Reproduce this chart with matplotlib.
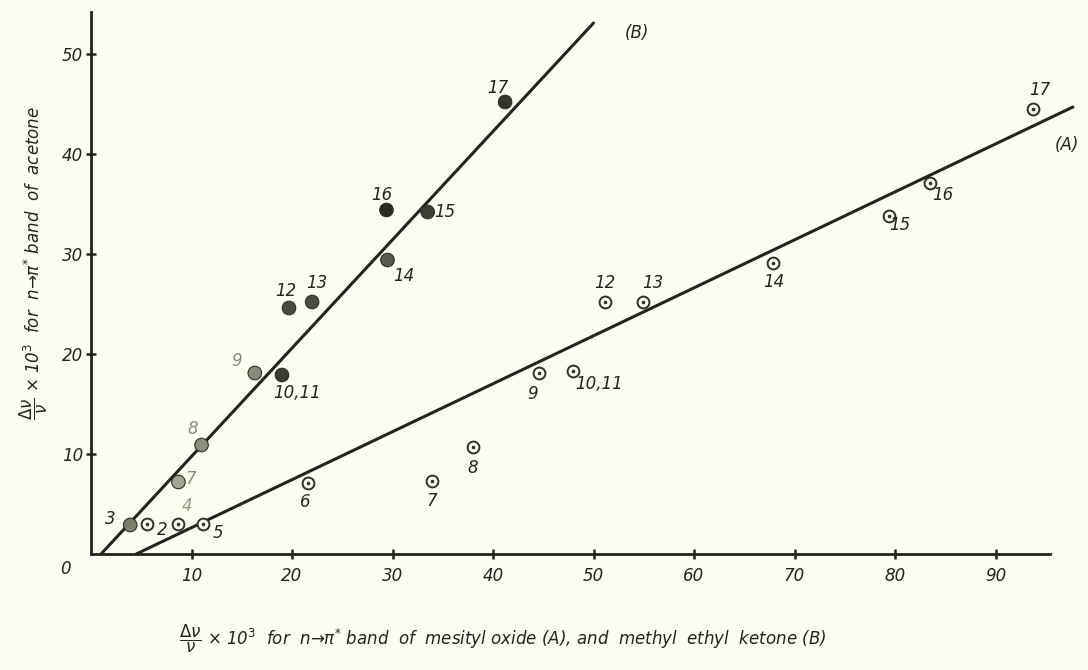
import numpy as np
import matplotlib
matplotlib.use("Agg")
import matplotlib.pyplot as plt

# series A : mesityl oxide (open circles)
a_labels = ['2', '4', '5', '6', '7', '8', '9', '10,11', '12', '13', '14', '15', '16', '17']
a_x = [5.6, 8.7, 11.1, 21.6, 33.9, 38.0, 44.6, 48.0, 51.1, 54.9, 67.9, 79.4, 83.5, 93.7]
a_y = [3.0, 3.0, 3.0, 7.1, 7.3, 10.7, 18.1, 18.3, 25.2, 25.2, 29.1, 33.8, 37.1, 44.5]

# series B : methyl ethyl ketone (filled circles)
b_labels = ['3', '7', '8', '9', '10,11', '12', '13', '14', '15', '16', '17']
b_x = [3.9, 8.7, 11.0, 16.3, 19.0, 19.7, 22.0, 29.5, 33.5, 29.4, 41.2]
b_y = [2.9, 7.2, 10.9, 18.1, 17.9, 24.6, 25.2, 29.4, 34.2, 34.4, 45.2]

# fitted straight lines (end points)
line_a_x = [4.5, 97.7]
line_a_y = [0.0, 44.7]
line_b_x = [1.0, 50.0]
line_b_y = [0.0, 53.1]

x_ticks = [10, 20, 30, 40, 50, 60, 70, 80, 90]
y_ticks = [10, 20, 30, 40, 50]

# label offsets in pixels (dx, dy)
a_off = [(15, -6), (9, 18), (15, -9), (-3, -19), (0, -20), (0, -21), (-7, -21),
         (26, -13), (0, 19), (10, 19), (0, -19), (11, -9), (13, -12), (7, 19)]
b_off = [(-20, 6), (12, 3), (-9, 16), (-18, 12), (15, -18), (-3, 17), (5, 19),
         (16, -16), (17, 0), (-5, 15), (-7, 14)]

paper = '#fdfcf1'
ink = '#24241a'

fig = plt.figure(figsize=(10.88, 6.70), dpi=100, facecolor=paper)
ax = fig.add_axes([91/1088, 116/670, 995/1088, 550/670])
ax.set_facecolor(paper)
ax.set_xlim(0, 99)
ax.set_ylim(0, 55)

ax.plot(line_a_x, line_a_y, color=ink, lw=2.2, solid_capstyle='round', zorder=2)
ax.plot(line_b_x, line_b_y, color=ink, lw=2.2, solid_capstyle='round', zorder=2)

# open circles with a centre dot
ax.plot(a_x, a_y, 'o', ms=8.5, mfc=paper, mec='#303026', mew=1.4, ls='none', zorder=3)
ax.plot(a_x, a_y, 'o', ms=1.6, color='#303026', ls='none', zorder=4)

# filled circles, lighter for the low points as in the print
b_cols = ['#7d7d6c', '#a3a392', '#8f8f7e', '#8a8a78', '#3c3c32', '#4a4a3e',
          '#4a4a3e', '#5a5a4c', '#3e3e34', '#2a2a22', '#34342a']
ax.scatter(b_x, b_y, s=95, c=b_cols, edgecolors='#2e2e26', linewidths=0.8, zorder=3)

tfont = dict(fontsize=12, style='italic', color=ink, ha='center', va='center')
for lab, x, y, (dx, dy) in zip(a_labels, a_x, a_y, a_off):
    col = '#9a9a88' if lab == '4' else ink
    ax.annotate(lab, (x, y), xytext=(dx, dy), textcoords='offset pixels',
                **{**tfont, 'color': col})
for lab, x, y, (dx, dy) in zip(b_labels, b_x, b_y, b_off):
    col = '#8c8c7a' if lab in ('7', '8', '9') else ink
    ax.annotate(lab, (x, y), xytext=(dx, dy), textcoords='offset pixels',
                **{**tfont, 'color': col})

ax.text(54.3, 52.1, '(B)', fontsize=12, style='italic', color=ink, ha='center', va='center')
ax.text(97.1, 40.9, '(A)', fontsize=12, style='italic', color=ink, ha='center', va='center',
        clip_on=False)

# axes in the style of the print
for s in ['top', 'right']:
    ax.spines[s].set_visible(False)
ax.spines['left'].set_bounds(0, 54.2)
ax.spines['bottom'].set_bounds(0, 95.4)
for s in ['left', 'bottom']:
    ax.spines[s].set_linewidth(2.0)
    ax.spines[s].set_color(ink)
ax.set_xticks(x_ticks)
ax.set_yticks(y_ticks)
ax.tick_params(direction='inout', length=7, width=1.8, color=ink, labelsize=12,
               labelcolor=ink, pad=6)
ax.tick_params(axis='y', pad=2)
for t in ax.get_xticklabels() + ax.get_yticklabels():
    t.set_style('italic')
ax.text(-2.5, -1.5, '0', fontsize=12, style='italic', color=ink, ha='center', va='center')

fig.text(0.462, 0.046,
         r'$\dfrac{\Delta\nu}{\nu}$' + r' × 10$^{3}$  for  n→π$^{*}$ band  of  mesityl oxide (A), and  methyl  ethyl  ketone (B)',
         fontsize=12, style='italic', color=ink, ha='center', va='center')
fig.text(0.031, 0.607,
         r'$\dfrac{\Delta\nu}{\nu}$' + r' × 10$^{3}$  for  n→π$^{*}$ band  of  acetone',
         fontsize=12, style='italic', color=ink, ha='center', va='center', rotation=90)

fig.savefig('out.png', dpi=100, facecolor=paper)
